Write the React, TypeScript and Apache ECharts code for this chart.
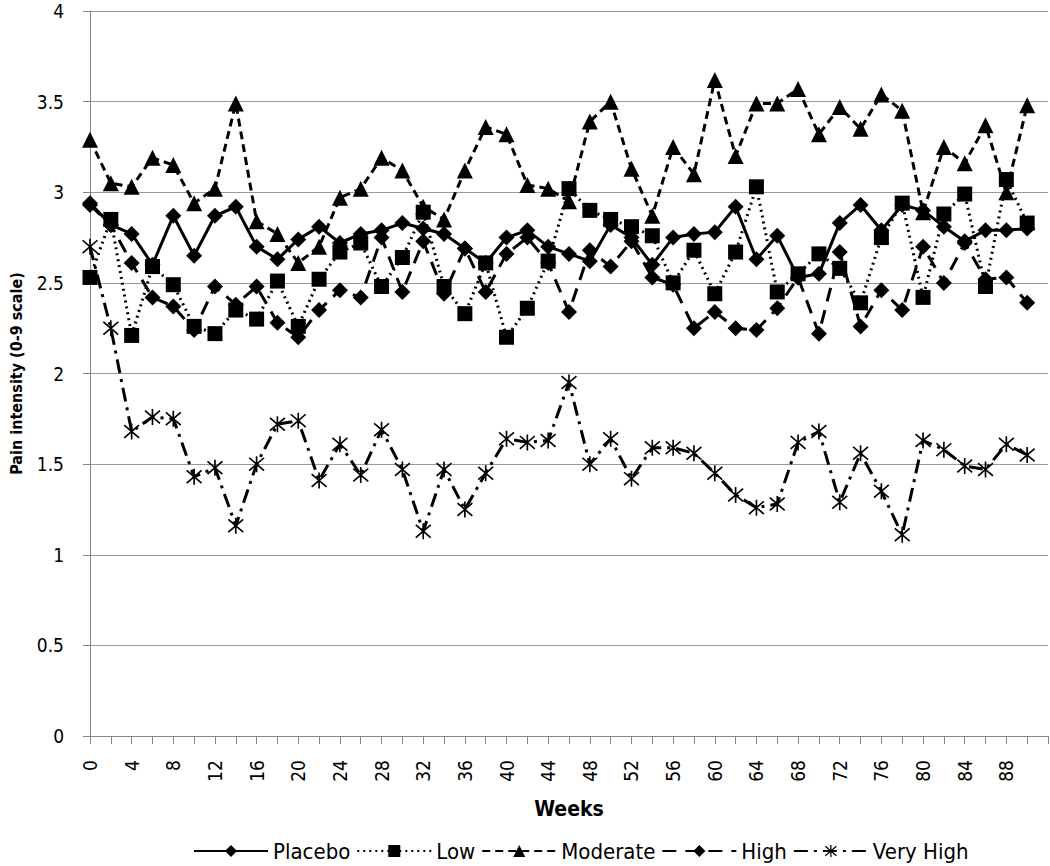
import React, { useEffect, useRef } from "react";
import * as echarts from "echarts";

const weeks = Array.from({ length: 47 }, (_, i) => String(i * 2));
const yTicks = [0, 0.5, 1, 1.5, 2, 2.5, 3, 3.5, 4];

const placebo = [2.94, 2.82, 2.77, 2.6, 2.87, 2.65, 2.87, 2.92, 2.7, 2.63, 2.74, 2.81, 2.72, 2.77, 2.79, 2.83, 2.8, 2.77, 2.69, 2.61, 2.75, 2.79, 2.7, 2.66, 2.62, 2.82, 2.75, 2.6, 2.75, 2.77, 2.78, 2.92, 2.63, 2.76, 2.53, 2.55, 2.83, 2.93, 2.79, 2.93, 2.9, 2.81, 2.73, 2.79, 2.79, 2.8];
const low = [2.53, 2.85, 2.21, 2.59, 2.49, 2.26, 2.22, 2.35, 2.3, 2.51, 2.26, 2.52, 2.67, 2.72, 2.48, 2.64, 2.89, 2.48, 2.33, 2.61, 2.2, 2.36, 2.62, 3.02, 2.9, 2.85, 2.81, 2.76, 2.5, 2.68, 2.44, 2.67, 3.03, 2.45, 2.55, 2.66, 2.58, 2.39, 2.75, 2.94, 2.42, 2.88, 2.99, 2.48, 3.07, 2.83];
const moderate = [3.29, 3.05, 3.03, 3.19, 3.15, 2.94, 3.02, 3.49, 2.84, 2.77, 2.61, 2.7, 2.97, 3.02, 3.19, 3.12, 2.92, 2.85, 3.12, 3.36, 3.32, 3.04, 3.02, 2.95, 3.39, 3.5, 3.13, 2.87, 3.25, 3.1, 3.62, 3.2, 3.49, 3.49, 3.57, 3.32, 3.47, 3.35, 3.54, 3.45, 2.89, 3.25, 3.16, 3.37, 3.0, 3.48];
const high = [2.93, 2.82, 2.61, 2.42, 2.37, 2.24, 2.48, 2.38, 2.48, 2.28, 2.2, 2.35, 2.46, 2.42, 2.75, 2.45, 2.73, 2.44, 2.69, 2.45, 2.66, 2.75, 2.61, 2.34, 2.68, 2.59, 2.73, 2.53, 2.49, 2.25, 2.34, 2.25, 2.24, 2.36, 2.53, 2.22, 2.67, 2.26, 2.46, 2.35, 2.7, 2.5, 2.72, 2.52, 2.53, 2.39];
const veryHigh = [2.7, 2.25, 1.68, 1.76, 1.75, 1.43, 1.48, 1.16, 1.5, 1.72, 1.74, 1.41, 1.61, 1.44, 1.69, 1.47, 1.13, 1.47, 1.25, 1.45, 1.64, 1.62, 1.63, 1.95, 1.5, 1.64, 1.42, 1.59, 1.59, 1.56, 1.45, 1.33, 1.26, 1.28, 1.62, 1.68, 1.29, 1.56, 1.35, 1.11, 1.63, 1.58, 1.49, 1.47, 1.61, 1.55];

const seriesNames = ["Placebo", "Low", "Moderate", "High", "Very High"];

const starPath =
  "path://M9 0 L11 0 L11 20 L9 20 Z M0.34 2.75 L1.66 1.25 L19.66 17.25 L18.34 18.75 Z M18.34 1.25 L19.66 2.75 L1.66 18.75 L0.34 17.25 Z";

const FONT = "'DejaVu Sans Condensed', 'DejaVu Sans', sans-serif";

export default function App() {
  const ref = useRef<HTMLDivElement>(null);
  useEffect(() => {
    if (!ref.current) return;
    const chart = echarts.init(ref.current, undefined, { renderer: "svg" });
    const mk = (name: string, data: number[], symbol: string, size: number, lineType: any, width = 3) => ({
      name,
      type: "line",
      data,
      symbol,
      symbolSize: size,
      showSymbol: true,
      showAllSymbol: true,
      itemStyle: { color: "#000" },
      lineStyle: { color: "#000", width, type: lineType, cap: "butt" },
      emphasis: { disabled: true },
    });
    chart.setOption({
      animation: false,
      textStyle: { fontFamily: FONT },
      grid: { left: 90, right: 2, top: 11, bottom: 130, containLabel: false },
      legend: {
        top: 835,
        left: 188,
        itemWidth: 74,
        itemHeight: 15,
        itemGap: 6,
        textStyle: { fontFamily: FONT, fontSize: 22, color: "#000" },
        data: seriesNames,
      },
      xAxis: {
        type: "category",
        data: weeks,
        boundaryGap: false,
        name: "Weeks",
        nameLocation: "middle",
        nameGap: 62,
        nameTextStyle: { fontFamily: FONT, fontSize: 21, fontWeight: "bold", color: "#000" },
        axisLine: { lineStyle: { color: "#868686", width: 1 } },
        axisTick: { show: true, interval: 0, length: 8, lineStyle: { color: "#868686" } },
        axisLabel: {
          interval: 1,
          rotate: 90,
          margin: 24,
          fontFamily: FONT,
          fontSize: 19,
          color: "#000",
          formatter: (v: string) => (v === "92" ? "" : v),
        },
        splitLine: { show: false },
      },
      yAxis: {
        type: "value",
        min: 0,
        max: 4,
        interval: 0.5,
        name: "Pain intensity (0-9 scale)",
        nameLocation: "middle",
        nameGap: 66,
        nameTextStyle: { fontFamily: FONT, fontSize: 16, fontWeight: "bold", color: "#000" },
        axisLine: { show: true, lineStyle: { color: "#868686", width: 1 } },
        axisTick: { show: true, length: 7, lineStyle: { color: "#868686" } },
        axisLabel: {
          margin: 26,
          fontFamily: FONT,
          fontSize: 19,
          color: "#000",
          formatter: (v: number) => (yTicks.includes(v) ? String(v) : ""),
        },
        splitLine: { show: true, lineStyle: { color: "#999", width: 1 } },
      },
      series: [
        mk("Placebo", placebo, "diamond", 16, "solid"),
        mk("Low", low, "rect", 15, [2, 4]),
        mk("Moderate", moderate, "triangle", 16, [8, 5]),
        mk("High", high, "diamond", 16, [14, 9]),
        mk("Very High", veryHigh, starPath, 16, [14, 6, 3, 6]),
      ],
    });
    return () => chart.dispose();
  }, []);
  return <div ref={ref} style={{ position: "absolute", left: 0, top: 0, width: 1050, height: 866 }} />;
}
